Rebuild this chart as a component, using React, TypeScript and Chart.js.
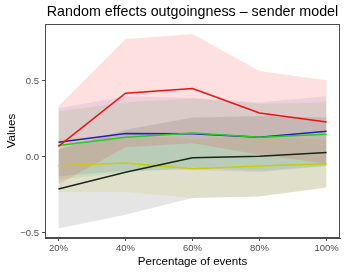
import React, { useEffect, useRef } from "react";
import { Chart, registerables } from "chart.js";

Chart.register(...registerables);

const percentages = [20, 40, 60, 80, 100];
const xTicks = [20, 40, 60, 80, 100];
const yTicks = [-0.5, 0, 0.5];

const redMean = [0.07, 0.42, 0.45, 0.29, 0.23];
const redLower = [-0.18, 0.064, 0.09, 0.014, -0.045];
const redUpper = [0.335, 0.776, 0.81, 0.566, 0.505];

const blueMean = [0.097, 0.155, 0.153, 0.13, 0.17];
const blueLower = [-0.126, -0.09, -0.084, -0.1, -0.06];
const blueUpper = [0.32, 0.4, 0.39, 0.36, 0.4];

const greenMean = [0.075, 0.13, 0.158, 0.13, 0.15];
const greenLower = [-0.15, -0.1, -0.07, -0.09, -0.06];
const greenUpper = [0.3, 0.36, 0.385, 0.35, 0.36];

const blackMean = [-0.21, -0.1, -0.005, 0.005, 0.03];
const blackLower = [-0.47, -0.38, -0.27, -0.26, -0.2];
const blackUpper = [0.05, 0.18, 0.26, 0.27, 0.26];

const yellowMean = [-0.057, -0.04, -0.077, -0.06, -0.044];
const yellowLower = [-0.23, -0.23, -0.27, -0.26, -0.2];
const yellowUpper = [0.116, 0.15, 0.116, 0.14, 0.112];

const FONT = "'Liberation Sans', Arial, sans-serif";

const pts = (ys: number[]) => ys.map((y, i) => ({ x: percentages[i], y }));

const lineDs = (data: number[], color: string) => ({
  data: pts(data),
  borderColor: color,
  borderWidth: 1.5,
  pointRadius: 0,
  fill: false,
  tension: 0,
});

const ribbon = (lower: number[], upper: number[], fillColor: string) => [
  {
    data: pts(lower),
    borderWidth: 0,
    borderColor: "rgba(0,0,0,0)",
    pointRadius: 0,
    fill: false,
  },
  {
    data: pts(upper),
    borderWidth: 0,
    borderColor: "rgba(0,0,0,0)",
    backgroundColor: fillColor,
    pointRadius: 0,
    fill: "-1",
  },
];

const textPlugin = {
  id: "textPlugin",
  afterDraw(chart: any) {
    const { ctx, chartArea } = chart;
    const cx = (chartArea.left + chartArea.right) / 2;
    const cy = (chartArea.top + chartArea.bottom) / 2;
    ctx.save();
    ctx.strokeStyle = "#4d4d4d";
    ctx.lineWidth = 1;
    ctx.strokeRect(chartArea.left + 0.5, chartArea.top + 0.5, chartArea.right - chartArea.left - 1, chartArea.bottom - chartArea.top - 1);
    ctx.fillStyle = "#000";
    ctx.textAlign = "center";
    ctx.textBaseline = "middle";
    ctx.font = `14.3px ${FONT}`;
    ctx.fillText("Random effects outgoingness \u2013 sender model", cx, 12);
    ctx.font = `11.6px ${FONT}`;
    ctx.fillText("Percentage of events", cx, 262);
    ctx.translate(12, cy);
    ctx.rotate(-Math.PI / 2);
    ctx.fillText("Values", 0, 0);
    ctx.restore();
  },
};

export default function App() {
  const ref = useRef<HTMLCanvasElement>(null);
  useEffect(() => {
    document.body.style.margin = "0";
    const datasets: any[] = [
      lineDs(redMean, "#ee1111"),
      lineDs(blackMean, "#1a261a"),
      lineDs(greenMean, "#22cc22"),
      lineDs(blueMean, "#2222bb"),
      lineDs(yellowMean, "#cccc00"),
      ...ribbon(redLower, redUpper, "rgba(255,0,0,0.12)"),
      ...ribbon(blueLower, blueUpper, "rgba(0,0,205,0.08)"),
      ...ribbon(greenLower, greenUpper, "rgba(0,205,0,0.1)"),
      ...ribbon(blackLower, blackUpper, "rgba(0,0,0,0.1)"),
      ...ribbon(yellowLower, yellowUpper, "rgba(205,205,0,0.12)"),
    ];
    const chart = new Chart(ref.current!, {
      type: "line",
      data: { datasets },
      options: {
        animation: false,
        responsive: false,
        events: [],
        layout: { padding: { top: 24, right: 6, left: 0, bottom: 0 } },
        plugins: { legend: { display: false }, tooltip: { enabled: false }, title: { display: false } },
        scales: {
          x: {
            type: "linear",
            min: 16,
            max: 104,
            afterBuildTicks: (s: any) => {
              s.ticks = xTicks.map((v) => ({ value: v }));
            },
            afterFit: (s: any) => {
              s.height = 36;
            },
            ticks: {
              callback: (v: any) => `${v}%`,
              color: "#4d4d4d",
              font: { size: 9.5, family: FONT },
              padding: 2,
              maxRotation: 0,
              autoSkip: false,
            },
            grid: { drawOnChartArea: false, drawTicks: true, tickLength: 3, color: "#4d4d4d" },
            border: { display: true, color: "#4d4d4d" },
          },
          y: {
            type: "linear",
            min: -0.533,
            max: 0.875,
            afterBuildTicks: (s: any) => {
              s.ticks = yTicks.map((v) => ({ value: v }));
            },
            afterFit: (s: any) => {
              s.width = 45;
            },
            ticks: {
              callback: (v: any) => (v < 0 ? "\u2212" : "") + Math.abs(v).toFixed(1),
              color: "#4d4d4d",
              font: { size: 9.5, family: FONT },
              padding: 3,
            },
            grid: { drawOnChartArea: false, drawTicks: true, tickLength: 3, color: "#4d4d4d" },
            border: { display: true, color: "#4d4d4d" },
          },
        },
      },
      plugins: [textPlugin],
    });
    return () => chart.destroy();
  }, []);
  return (
    <div style={{ width: 346, height: 274, background: "#fff" }}>
      <canvas ref={ref} width={346} height={274} />
    </div>
  );
}
